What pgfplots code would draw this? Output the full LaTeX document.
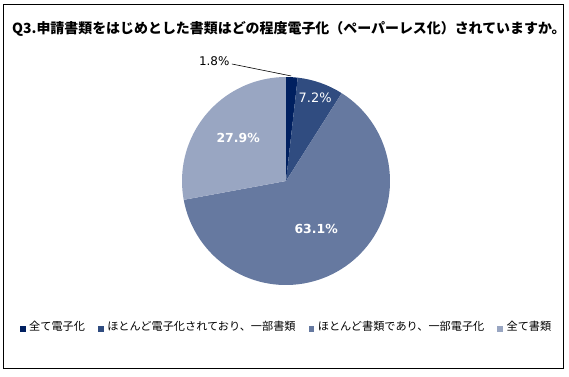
\documentclass[border=0pt]{standalone}
\usepackage{pgfplots}
\pgfplotsset{compat=1.18}
\usepackage{fontspec}
\setmainfont{Noto Sans CJK JP}
\newfontfamily\numfont{DejaVu Sans}
\definecolor{c1}{HTML}{002060}
\definecolor{c2}{HTML}{304C80}
\definecolor{c3}{HTML}{6679A0}
\definecolor{c4}{HTML}{99A6C2}
% slice: colour, cumulative start (%), share (%)
\newcommand{\slice}[3]{%
  \fill[#1] (axis cs:0,0) -- (axis cs:{cos(90-3.6*#2)},{sin(90-3.6*#2)})
    arc[start angle={90-3.6*#2}, end angle={90-3.6*(#2+#3)}, radius=104bp] -- cycle;}
\begin{document}
\begin{tikzpicture}
\begin{axis}[
  x=104bp, y=104bp, scale only axis,
  xmin=-1, xmax=1, ymin=-1, ymax=1,
  hide axis, clip=false,
  legend columns=4,
  legend cell align=left,
  legend image code/.code={\fill[#1,draw=none] (0bp,-4.5bp) rectangle (5.8bp,1.3bp);},
  legend style={at={(axis cs:-2.56,-1.404)}, anchor=west, draw=none, fill=none,
    inner sep=0pt, font=\fontsize{11.2}{13}\selectfont,
    /tikz/every odd column/.append style={column sep=1.5bp},
    /tikz/every even column/.append style={column sep=11bp}},
]
% page extent (569 x 377 px) and frame, in axis units (1 unit = 104 px, centre at px 286,181)
\path (axis cs:-2.75,-1.8846) rectangle (axis cs:2.7212,1.7404);
\draw[line width=1.2bp] (axis cs:-2.716,-1.8029) rectangle (axis cs:2.668,1.697);
\node[anchor=base west, inner sep=0pt, font=\bfseries\fontsize{14}{16}\selectfont] at (axis cs:-2.635,1.4135) {Q3.申請書類をはじめとした書類はどの程度電子化（ペーパーレス化）されていますか。};
\slice{c1}{0}{1.8}
\slice{c2}{1.8}{7.2}
\slice{c3}{9.0}{63.1}
\slice{c4}{72.1}{27.9}
\draw[line width=0.6bp] (axis cs:-0.52,1.125) -- (axis cs:0.05,1.01);
\node[font=\numfont\fontsize{12}{14}\selectfont, anchor=center] at (axis cs:-0.69,1.15) {1.8\%};
\node[font=\numfont\fontsize{13}{15}\selectfont, text=white] at (axis cs:0.28,0.80) {7.2\%};
\node[font=\numfont\bfseries\fontsize{12.5}{14}\selectfont, text=white] at (axis cs:0.29,-0.46) {63.1\%};
\node[font=\numfont\bfseries\fontsize{12.5}{14}\selectfont, text=white] at (axis cs:-0.46,0.41) {27.9\%};
\addlegendimage{fill=c1}\addlegendentry{全て電子化}
\addlegendimage{fill=c2}\addlegendentry{ほとんど電子化されており、一部書類}
\addlegendimage{fill=c3}\addlegendentry{ほとんど書類であり、一部電子化}
\addlegendimage{fill=c4}\addlegendentry{全て書類}
\end{axis}
\end{tikzpicture}
\end{document}
